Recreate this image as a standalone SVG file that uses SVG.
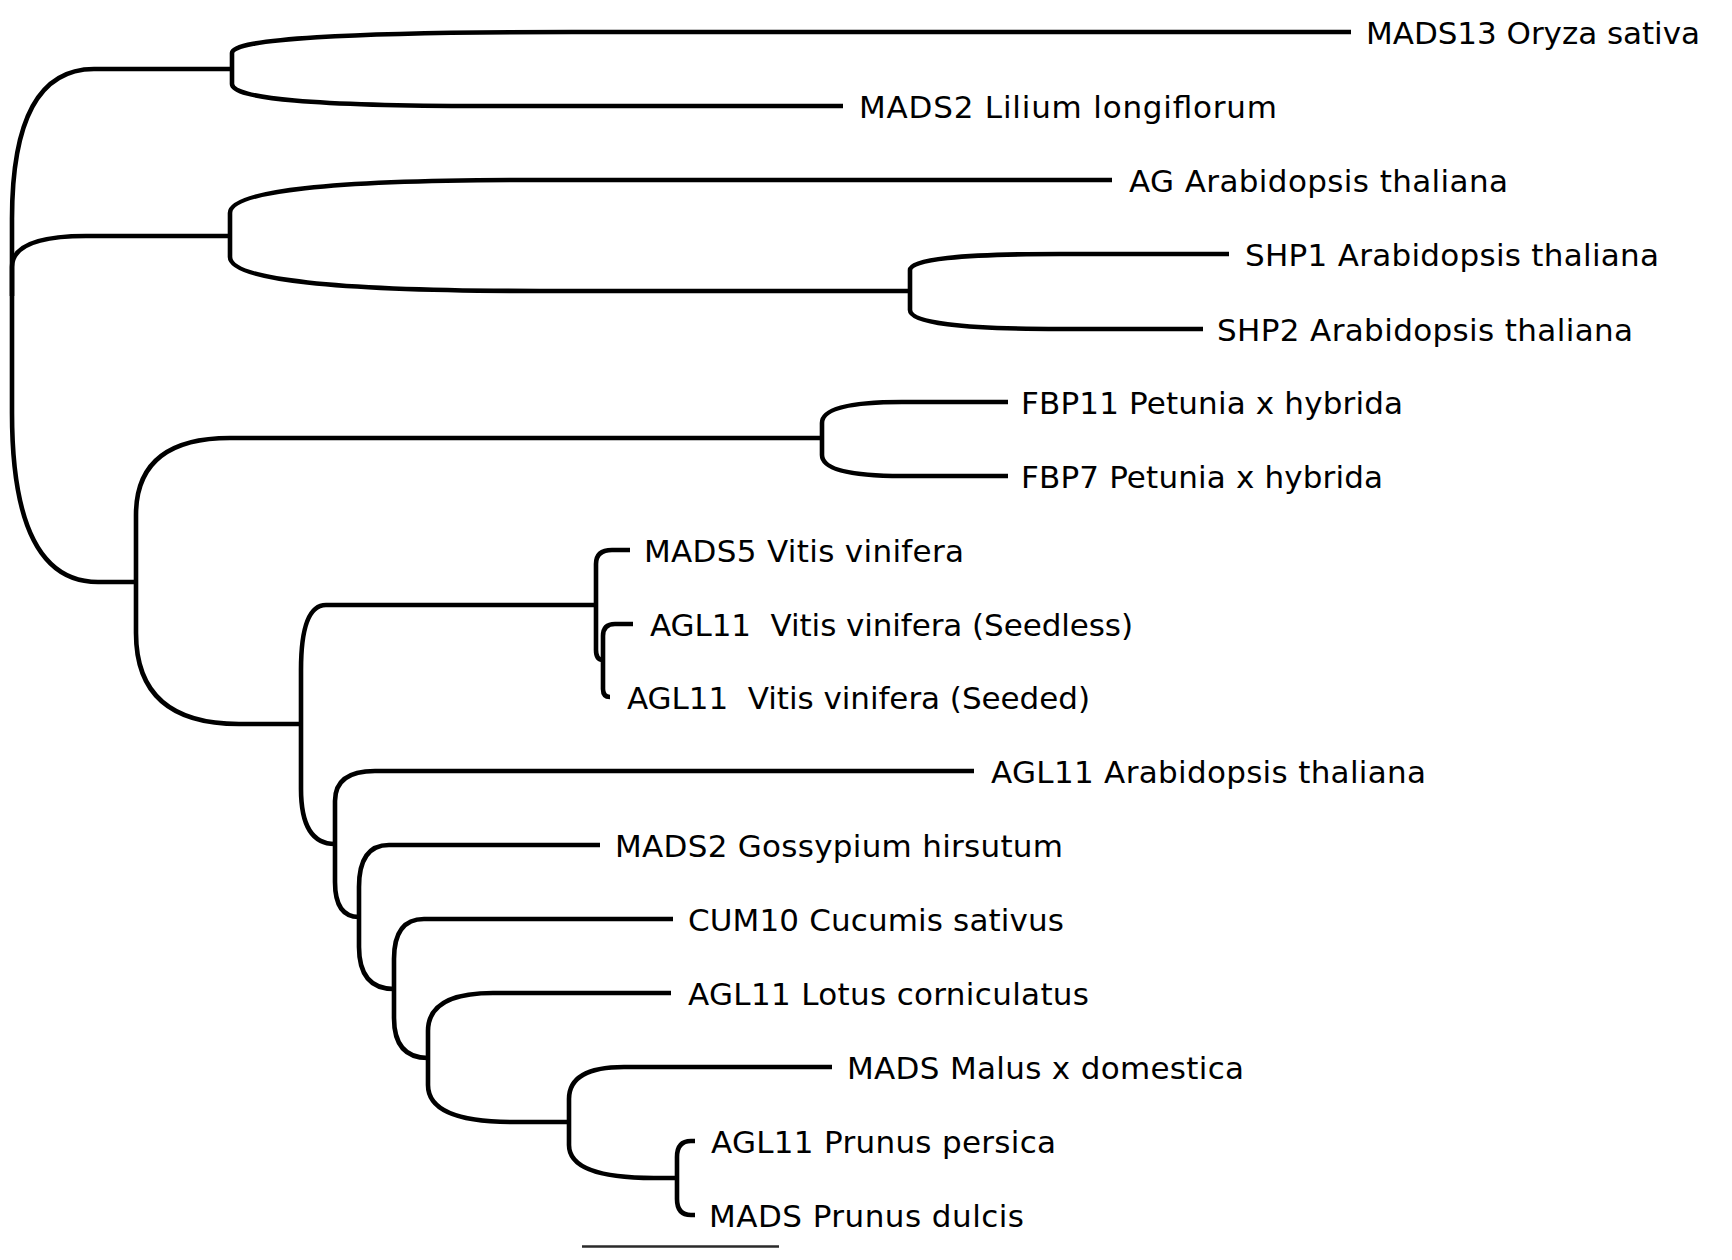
<svg xmlns="http://www.w3.org/2000/svg" width="1732" height="1260" viewBox="0 0 1732 1260">
<style>
.br{fill:none;stroke:#000;stroke-width:4.6;stroke-linecap:butt;stroke-linejoin:miter}
.lb{font-family:"DejaVu Sans","Liberation Sans",sans-serif;font-size:31px;fill:#000;white-space:pre}
.sc{fill:none;stroke:#2a2a2a;stroke-width:2.6}
</style>
<rect x="0" y="0" width="1732" height="1260" fill="#fff"/>
<g id="connectors">
<path class="br" d="M12 296 L12 219 Q12 69 94 69 L232 69"/>
<path class="br" d="M12 296 L12 267 Q12 236 86 236 L230 236"/>
<path class="br" d="M12 296 L12 413 Q12 582 98 582 L136 582"/>
<path class="br" d="M232 69 L232 53 Q232 32 572 32 L1351 32"/>
<path class="br" d="M232 69 L232 84 Q232 106 482 106 L843 106"/>
<path class="br" d="M230 236 L230 213 Q230 180 530 180 L1112 180"/>
<path class="br" d="M230 236 L230 257 Q230 291 540 291 L910 291"/>
<path class="br" d="M910 291 L910 270 Q910 254 1060 254 L1229 254"/>
<path class="br" d="M910 291 L910 310 Q910 329 1060 329 L1203 329"/>
<path class="br" d="M136 582 L136 515 Q136 438 230 438 L822 438"/>
<path class="br" d="M136 582 L136 633 Q136 724 239 724 L301 724"/>
<path class="br" d="M822 438 L822 423 Q822 402 902 402 L1008 402"/>
<path class="br" d="M822 438 L822 455 Q822 476 902 476 L1008 476"/>
<path class="br" d="M301 724 L301 670 Q301 605 326 605 L596 605"/>
<path class="br" d="M301 724 L301 789 Q301 844 335 844"/>
<path class="br" d="M596 605 L596 564 Q596 550 612 550 L630 550"/>
<path class="br" d="M596 605 L596 650 Q596 660 603 660"/>
<path class="br" d="M603 660 L603 636 Q603 624 615 624 L633 624"/>
<path class="br" d="M603 660 L603 689 Q603 697 610 697"/>
<path class="br" d="M335 844 L335 801 Q335 771 375 771 L974 771"/>
<path class="br" d="M335 844 L335 882 Q335 917 359 917"/>
<path class="br" d="M359 917 L359 887 Q359 845 389 845 L600 845"/>
<path class="br" d="M359 917 L359 947 Q359 989 394 989"/>
<path class="br" d="M394 989 L394 959 Q394 919 424 919 L673 919"/>
<path class="br" d="M394 989 L394 1018 Q394 1058 428 1058"/>
<path class="br" d="M428 1058 L428 1031 Q428 993 493 993 L671 993"/>
<path class="br" d="M428 1058 L428 1085 Q428 1122 513 1122 L569 1122"/>
<path class="br" d="M569 1122 L569 1099 Q569 1067 624 1067 L832 1067"/>
<path class="br" d="M569 1122 L569 1145 Q569 1178 654 1178 L677 1178"/>
<path class="br" d="M677 1178 L677 1157 Q677 1141 691 1141 L695 1141"/>
<path class="br" d="M677 1178 L677 1199 Q677 1215 691 1215 L695 1215"/>
</g>
<g id="leaf-mads13-oryza"><text class="lb" x="1366" y="43.5" textLength="334" lengthAdjust="spacing">MADS13 Oryza sativa</text></g>
<g id="leaf-mads2-lilium"><text class="lb" x="859" y="117.5" textLength="418" lengthAdjust="spacing">MADS2 Lilium longiflorum</text></g>
<g id="leaf-ag-arabidopsis"><text class="lb" x="1129" y="191.5" textLength="379" lengthAdjust="spacing">AG Arabidopsis thaliana</text></g>
<g id="leaf-shp1"><text class="lb" x="1245" y="265.5" textLength="414" lengthAdjust="spacing">SHP1 Arabidopsis thaliana</text></g>
<g id="leaf-shp2"><text class="lb" x="1217" y="340.5" textLength="416" lengthAdjust="spacing">SHP2 Arabidopsis thaliana</text></g>
<g id="leaf-fbp11"><text class="lb" x="1021" y="413.5" textLength="382" lengthAdjust="spacing">FBP11 Petunia x hybrida</text></g>
<g id="leaf-fbp7"><text class="lb" x="1021" y="487.5" textLength="362" lengthAdjust="spacing">FBP7 Petunia x hybrida</text></g>
<g id="leaf-mads5-vitis"><text class="lb" x="644" y="561.5" textLength="320" lengthAdjust="spacing">MADS5 Vitis vinifera</text></g>
<g id="leaf-agl11-vitis-seedless"><text class="lb" x="650" y="635.5" xml:space="preserve" textLength="483" lengthAdjust="spacing">AGL11  Vitis vinifera (Seedless)</text></g>
<g id="leaf-agl11-vitis-seeded"><text class="lb" x="627" y="708.5" xml:space="preserve" textLength="463" lengthAdjust="spacing">AGL11  Vitis vinifera (Seeded)</text></g>
<g id="leaf-agl11-arabidopsis"><text class="lb" x="991" y="782.5" textLength="435" lengthAdjust="spacing">AGL11 Arabidopsis thaliana</text></g>
<g id="leaf-mads2-gossypium"><text class="lb" x="615" y="856.5" textLength="448" lengthAdjust="spacing">MADS2 Gossypium hirsutum</text></g>
<g id="leaf-cum10"><text class="lb" x="688" y="930.5" textLength="376" lengthAdjust="spacing">CUM10 Cucumis sativus</text></g>
<g id="leaf-agl11-lotus"><text class="lb" x="688" y="1004.5" textLength="401" lengthAdjust="spacing">AGL11 Lotus corniculatus</text></g>
<g id="leaf-mads-malus"><text class="lb" x="847" y="1078.5" textLength="397" lengthAdjust="spacing">MADS Malus x domestica</text></g>
<g id="leaf-agl11-prunus-persica"><text class="lb" x="711" y="1152.5" textLength="345" lengthAdjust="spacing">AGL11 Prunus persica</text></g>
<g id="leaf-mads-prunus-dulcis"><text class="lb" x="709" y="1226.5" textLength="315" lengthAdjust="spacing">MADS Prunus dulcis</text></g>
<g id="scale-bar"><line class="sc" x1="582" y1="1246.5" x2="779" y2="1246.5"/></g>
</svg>
